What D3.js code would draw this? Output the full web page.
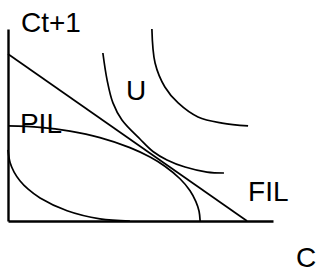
<!DOCTYPE html>
<html>
<head>
<meta charset="utf-8">
<script src="https://cdn.jsdelivr.net/npm/d3@7/dist/d3.min.js"></script>
<style>
  html, body { margin: 0; padding: 0; background: #fff; }
  svg { display: block; }
  text { font-family: "Liberation Sans", Arial, sans-serif; font-size: 28px; fill: #000; }
</style>
</head>
<body>
<svg id="chart" width="320" height="273"></svg>
<script>
// Data (units: C on x, Ct+1 on y, both 0..10)
const filLine = [[0, 8.70], [9.02, 0]];
const pilCurve = [[0, 4.95], [1.21, 4.88], [2.34, 4.68], [3.47, 4.34], [4.60, 3.82], [5.36, 3.33],
                  [5.92, 2.85], [6.49, 2.20], [6.87, 1.58], [7.09, 1.01], [7.21, 0.51], [7.25, 0]];
const innerCurve = [[0, 3.70], [0.08, 3.03], [0.23, 2.55], [0.45, 2.10], [0.75, 1.67], [1.21, 1.20],
                    [2.23, 0.53], [3.47, 0.11], [4.60, 0]];
const indiff1 = [[3.58, 8.75], [3.74, 7.34], [3.96, 6.15], [4.30, 5.26], [4.98, 4.27], [5.47, 3.62],
                 [6.00, 3.18], [6.68, 2.81], [7.51, 2.55], [8.15, 2.50]];
const indiff2 = [[5.43, 10.0], [5.55, 8.23], [5.92, 6.98], [6.42, 6.15], [7.17, 5.42], [8.08, 5.10], [9.06, 4.95]];
const labels = [
  { text: "Ct+1", x: 0.49, y: 9.84 },
  { text: "U", x: 4.45, y: 6.30 },
  { text: "PIL", x: 0.45, y: 4.58 },
  { text: "FIL", x: 9.06, y: 1.04 },
  { text: "C", x: 10.87, y: -2.40 }
];

const svg = d3.select("#chart");
const x = d3.scaleLinear().domain([0, 10]).range([8, 273]);
const y = d3.scaleLinear().domain([0, 10]).range([221, 29]);

// axes (domain lines only)
svg.append("g").attr("transform", `translate(0,${y(0)})`)
  .call(d3.axisBottom(x).ticks(0).tickSizeOuter(0))
  .call(g => g.select(".domain").attr("stroke", "#000").attr("stroke-width", 2.6));
svg.append("g").attr("transform", `translate(${x(0)},0)`)
  .call(d3.axisLeft(y).ticks(0).tickSizeOuter(0))
  .call(g => g.select(".domain").attr("stroke", "#000").attr("stroke-width", 2.4));

const line = d3.line().x(d => x(d[0])).y(d => y(d[1])).curve(d3.curveCatmullRom.alpha(0.5));
const straight = d3.line().x(d => x(d[0])).y(d => y(d[1]));

[pilCurve, innerCurve, indiff1, indiff2].forEach(data => {
  svg.append("path").datum(data).attr("d", line)
    .attr("fill", "none").attr("stroke", "#000").attr("stroke-width", 1.7);
});
svg.append("path").datum(filLine).attr("d", straight)
  .attr("fill", "none").attr("stroke", "#000").attr("stroke-width", 1.7);

svg.selectAll("text.lbl").data(labels).enter().append("text")
  .attr("class", "lbl")
  .attr("x", d => x(d.x)).attr("y", d => y(d.y))
  .text(d => d.text);
</script>
</body>
</html>
